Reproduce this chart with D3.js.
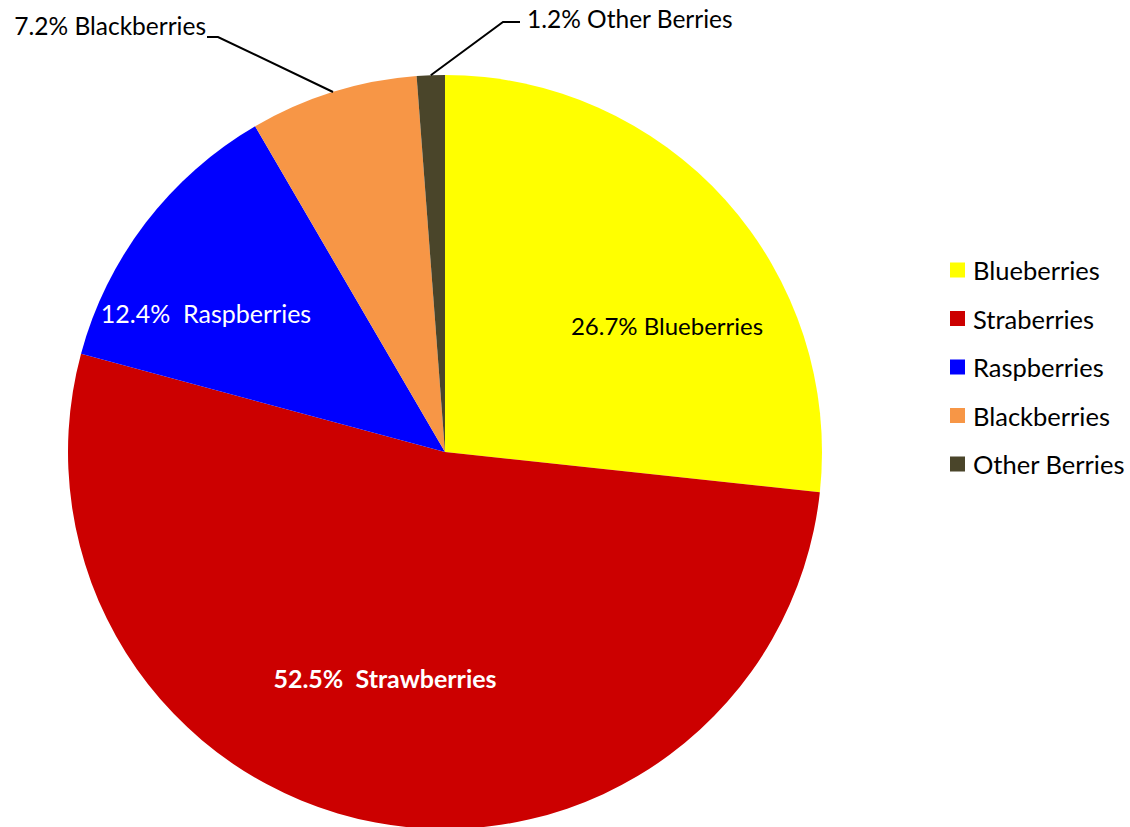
<!DOCTYPE html>
<html>
<head>
<meta charset="utf-8">
<script src="https://cdn.jsdelivr.net/npm/d3@7"></script>
<style>
  html, body { margin: 0; padding: 0; background: #fff; }
  svg text { font-family: Lato, "Open Sans", sans-serif; white-space: pre; }
</style>
</head>
<body>
<svg id="chart" width="1130" height="827"></svg>
<script>
// Berry share of total (%), clockwise from 12 o'clock
const categories = ["Blueberries", "Strawberries", "Raspberries", "Blackberries", "Other Berries"];
const legendNames = ["Blueberries", "Straberries", "Raspberries", "Blackberries", "Other Berries"];
const shares = [26.7, 52.5, 12.4, 7.2, 1.2];
const sliceLabels = ["26.7% Blueberries", "52.5%\u00A0 Strawberries", "12.4%\u00A0 Raspberries", "7.2% Blackberries", "1.2% Other Berries"];
const colors = ["#FFFF00", "#CC0000", "#0000FF", "#F79646", "#4A452A"];

const svg = d3.select("#chart");
const cx = 445, cy = 452, R = 377;

const data = categories.map((c, i) => ({ name: c, value: shares[i], label: sliceLabels[i], color: colors[i] }));

const pie = d3.pie().value(d => d.value).sort(null);
const arcs = pie(data);
const arc = d3.arc().innerRadius(0).outerRadius(R);

const g = svg.append("g").attr("transform", `translate(${cx},${cy})`);

g.selectAll("path.slice")
  .data(arcs)
  .join("path")
  .attr("class", "slice")
  .attr("d", arc)
  .attr("fill", d => d.data.color);

// Inside labels, placed relative to the pie centre
const inside = [
  { i: 0, x: 222, y: -127, fill: "#000", weight: 400, size: 24 },
  { i: 1, x: -60, y: 226, fill: "#fff", weight: 700, size: 25 },
  { i: 2, x: -239, y: -139, fill: "#fff", weight: 400, size: 25 }
];
inside.forEach(o => {
  const a = arcs[o.i];
  g.append("text")
    .attr("x", o.x).attr("y", o.y)
    .attr("text-anchor", "middle")
    .attr("dominant-baseline", "central")
    .attr("font-size", o.size)
    .attr("font-weight", o.weight)
    .attr("fill", o.fill)
    .text(a.data.label);
});

// Outside labels with leader lines from the arc midpoint
const outside = [
  { i: 3, elbow: [-227, -415], end: [-238, -415], anchor: "end", tx: -239, ty: -427 },
  { i: 4, elbow: [58, -430], end: [75, -430], anchor: "start", tx: 82, ty: -434 }
];
outside.forEach(o => {
  const a = arcs[o.i];
  const mid = (a.startAngle + a.endAngle) / 2;
  const p = [Math.sin(mid) * R, -Math.cos(mid) * R];
  g.append("path")
    .attr("d", d3.line()([p, o.elbow, o.end]))
    .attr("fill", "none")
    .attr("stroke", "#000")
    .attr("stroke-width", 2);
  g.append("text")
    .attr("x", o.tx).attr("y", o.ty)
    .attr("text-anchor", o.anchor)
    .attr("dominant-baseline", "central")
    .attr("font-size", 24.5)
    .attr("fill", "#000")
    .text(a.data.label);
});

// Legend
const legend = svg.append("g").attr("transform", "translate(950,270)");
const rowStep = 48.5;
const items = legend.selectAll("g.item")
  .data(legendNames)
  .join("g")
  .attr("class", "item")
  .attr("transform", (d, i) => `translate(0,${i * rowStep})`);
items.append("rect")
  .attr("x", 0).attr("y", -7.5)
  .attr("width", 15).attr("height", 15)
  .attr("fill", (d, i) => colors[i]);
items.append("text")
  .attr("x", 23).attr("y", 0)
  .attr("dominant-baseline", "central")
  .attr("font-size", 25.5)
  .attr("fill", "#000")
  .text(d => d);
</script>
</body>
</html>
